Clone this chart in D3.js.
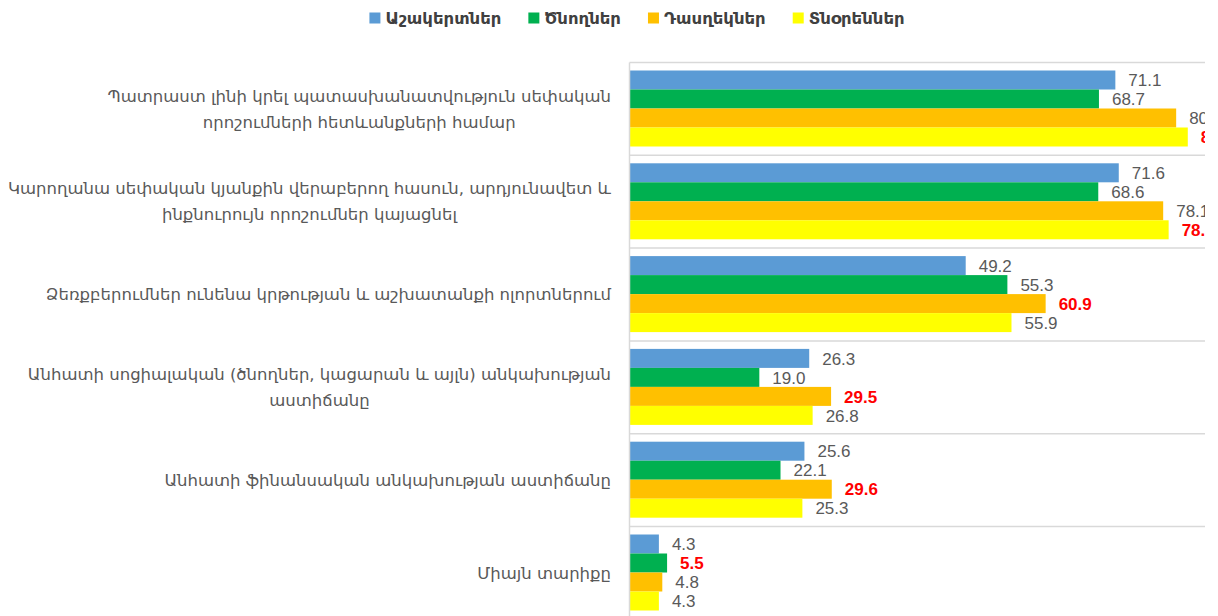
<!DOCTYPE html>
<html><head><meta charset="utf-8">
<script src="https://cdn.jsdelivr.net/npm/d3@7"></script>
<style>
html,body{margin:0;padding:0;background:#fff;}
svg{display:block;}
</style></head>
<body>
<svg id="chart" width="1218" height="616"></svg>
<script>
const categories = [
  ["Պատրաստ լինի  կրել  պատասխանատվություն սեփական", "որոշումների հետևանքների համար"],
  ["Կարողանա սեփական կյանքին վերաբերող հասուն, արդյունավետ և", "ինքնուրույն որոշումներ կայացնել"],
  ["Ձեռքբերումներ ունենա կրթության և աշխատանքի ոլորտներում"],
  ["Անհատի սոցիալական (ծնողներ, կացարան և այլն) անկախության", "աստիճանը"],
  ["Անհատի ֆինանսական անկախության աստիճանը"],
  ["Միայն տարիքը"]
];
const seriesNames = ["Աշակերտներ", "Ծնողներ", "Դասղեկներ", "Տնօրեններ"];
const students  = [71.1, 71.6, 49.2, 26.3, 25.6, 4.3];
const parents   = [68.7, 68.6, 55.3, 19.0, 22.1, 5.5];
const teachers  = [80.0, 78.1, 60.9, 29.5, 29.6, 4.8];
const directors = [81.7, 78.9, 55.9, 26.8, 25.3, 4.3];
const seriesValues = [students, parents, teachers, directors];
const colors = ["#5B9BD5", "#00B050", "#FFC000", "#FFFF00"];

const svg = d3.select("#chart");
const axisX = 629.5, clipRight = 1205;
const x = d3.scaleLinear().domain([0, 90]).range([axisX, axisX + 615]);
const y = d3.scaleBand().domain(d3.range(categories.length)).range([62.5, 62.5 + 92.8 * 6]).padding(0);
const ys = d3.scaleBand().domain(d3.range(seriesNames.length)).range([8, 84]).padding(0);

svg.append("defs").append("clipPath").attr("id", "clip")
  .append("rect").attr("x", 0).attr("y", 0).attr("width", clipRight).attr("height", 616);

const g = svg.append("g").attr("clip-path", "url(#clip)");

g.append("g").selectAll("line").data(d3.range(categories.length)).join("line")
  .attr("x1", axisX).attr("x2", clipRight)
  .attr("y1", d => y(d)).attr("y2", d => y(d))
  .attr("stroke", "#d9d9d9").attr("stroke-width", 1.5);

const rows = [];
categories.forEach((c, i) => seriesValues.forEach((vals, s) => rows.push({i, s, v: vals[i]})));
const maxes = categories.map((c, i) => d3.max(seriesValues, vals => vals[i]));

g.append("g").selectAll("rect").data(rows).join("rect")
  .attr("x", axisX)
  .attr("y", d => y(d.i) + ys(d.s))
  .attr("width", d => x(d.v) - axisX)
  .attr("height", ys.bandwidth())
  .attr("fill", d => colors[d.s]);

g.append("line").attr("x1", axisX).attr("x2", axisX).attr("y1", 62.5).attr("y2", 616)
  .attr("stroke", "#d9d9d9").attr("stroke-width", 1.5);

g.append("g").selectAll("text").data(rows).join("text")
  .attr("x", d => x(d.v) + 13)
  .attr("y", d => y(d.i) + ys(d.s) + ys.bandwidth() / 2)
  .attr("dy", "0.36em")
  .attr("font-family", "'Liberation Sans', Arial, sans-serif")
  .attr("font-size", 17)
  .attr("font-weight", d => d.v === maxes[d.i] ? "bold" : "normal")
  .attr("fill", d => d.v === maxes[d.i] ? "#FF0000" : "#595959")
  .text(d => d3.format(".1f")(d.v));

const catG = svg.append("g");
categories.forEach((lines, i) => {
  const cy = y(i) + y.bandwidth() / 2;
  const lh = 26;
  const grp = catG.append("g");
  const texts = grp.selectAll("text").data(lines).join("text")
    .attr("y", (d, k) => cy + (k - (lines.length - 1) / 2) * lh)
    .attr("dy", "0.35em")
    .attr("text-anchor", "middle")
    .attr("font-family", "'DejaVu Sans', sans-serif")
    .attr("font-size", 16.5)
    .attr("fill", "#595959")
    .text(d => d);
  let maxW = 0;
  texts.each(function() { maxW = Math.max(maxW, this.getComputedTextLength()); });
  texts.attr("x", 611 - maxW / 2);
});

const legend = svg.append("g");
const items = legend.selectAll("g").data(seriesNames).join("g");
items.append("rect").attr("width", 11).attr("height", 11).attr("y", -5.5).attr("fill", (d, k) => colors[k]);
items.append("text").attr("x", 16).attr("dy", "0.35em")
  .attr("font-family", "'DejaVu Sans', sans-serif").attr("font-size", 16.5)
  .attr("font-weight", "bold").attr("fill", "#404040").text(d => d);
let cx = 0; const pos = [];
items.each(function() {
  const w = d3.select(this).select("text").node().getComputedTextLength() + 16;
  pos.push(cx); cx += w + 27;
});
const totalW = cx - 27;
items.attr("transform", (d, k) => `translate(${637 - totalW / 2 + pos[k]},18)`);
</script>
</body></html>
